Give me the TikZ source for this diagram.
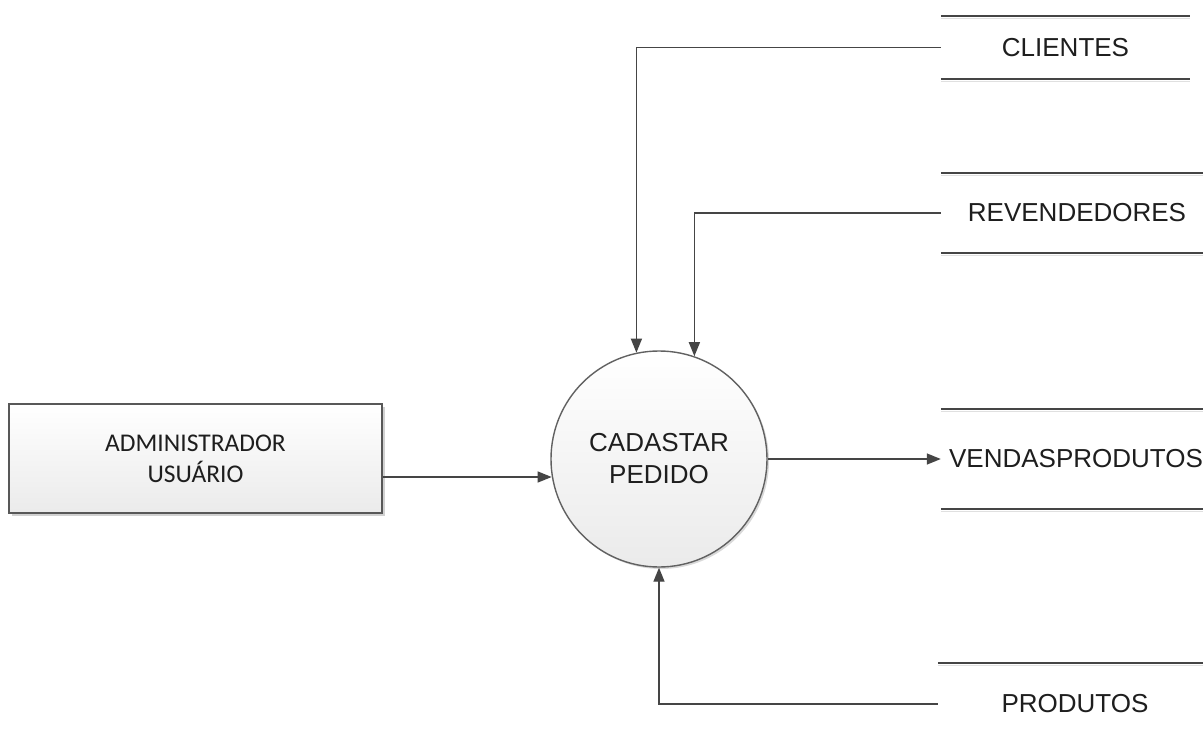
\documentclass[tikz,border=0pt]{standalone}
\usepackage{fontspec}
\setmainfont{Liberation Sans}
\newfontfamily\carlitofont{Carlito}
\usetikzlibrary{arrows.meta,shadows}
\definecolor{linegray}{HTML}{454545}
\definecolor{txt}{HTML}{1E1E1E}
\tikzset{
  entity/.style={rectangle, draw=linegray!90, line width=1.6pt, top color=white, bottom color=black!8,
    drop shadow={shadow xshift=3pt, shadow yshift=-3pt, opacity=0.18, fill=black},
    minimum width=373pt, minimum height=109pt, align=center, inner sep=0pt,
    font=\carlitofont\fontsize{25.5}{31}\selectfont, text=txt},
  process/.style={circle, draw=linegray!85, line width=1.4pt, top color=white, bottom color=black!8,
    drop shadow={shadow xshift=2pt, shadow yshift=-2pt, opacity=0.15, fill=black},
    minimum size=216pt, inner sep=0pt, align=center,
    font=\fontsize{26}{32}\selectfont, text=txt},
  store/.style={rectangle, draw=none, inner sep=0pt, font=\fontsize{26}{32}\selectfont, text=txt},
  storeline/.style={draw=linegray, line width=1.6pt},
  storeshadow/.style={draw=black!12, line width=1.4pt},
  flow/.style={draw=linegray, line width=1.4pt, -{Triangle[length=14pt,width=11pt]}}
}
\begin{document}
\begin{tikzpicture}[x=1pt,y=-1pt]
\useasboundingbox (0,0) rectangle (1203,742);
\fill[white] (0,0) rectangle (1203,742);

\node[entity] (admin) at (195.5,458.5) {ADMINISTRADOR\\USUÁRIO};
\node[process] (proc) at (659,459) {CADASTAR\\PEDIDO};

\node[store, minimum width=249pt, minimum height=63pt] (clientes) at (1065.5,47.5) {CLIENTES};
\node[store, minimum width=272pt, minimum height=80pt] (revend) at (1077,213) {REVENDEDORES};
\node[store, minimum width=270pt, minimum height=100pt] (vendas) at (1076,459) {VENDASPRODUTOS};
\node[store, minimum width=274pt, minimum height=82pt] (produtos) at (1075,704) {PRODUTOS};

\foreach \s in {clientes,revend,vendas,produtos}{
  \draw[storeshadow] ([yshift=-2.5pt]\s.north west) -- ([yshift=-2.5pt]\s.north east);
  \draw[storeshadow] ([yshift=-2.5pt]\s.south west) -- ([yshift=-2.5pt]\s.south east);
  \draw[storeline] (\s.north west) -- (\s.north east);
  \draw[storeline] (\s.south west) -- (\s.south east);
}

\coordinate (ain) at ([yshift=-18.5pt]admin.east);
\draw[flow] (clientes.west) -| (proc.102.5);
\draw[flow] (revend.west) -| (proc.71.8);
\draw[flow] (produtos.west) -| (proc.south);
\draw[flow] (proc.east) -- (vendas.west);
\draw[flow] (ain) -- (ain -| proc.189.6);
\end{tikzpicture}
\end{document}
